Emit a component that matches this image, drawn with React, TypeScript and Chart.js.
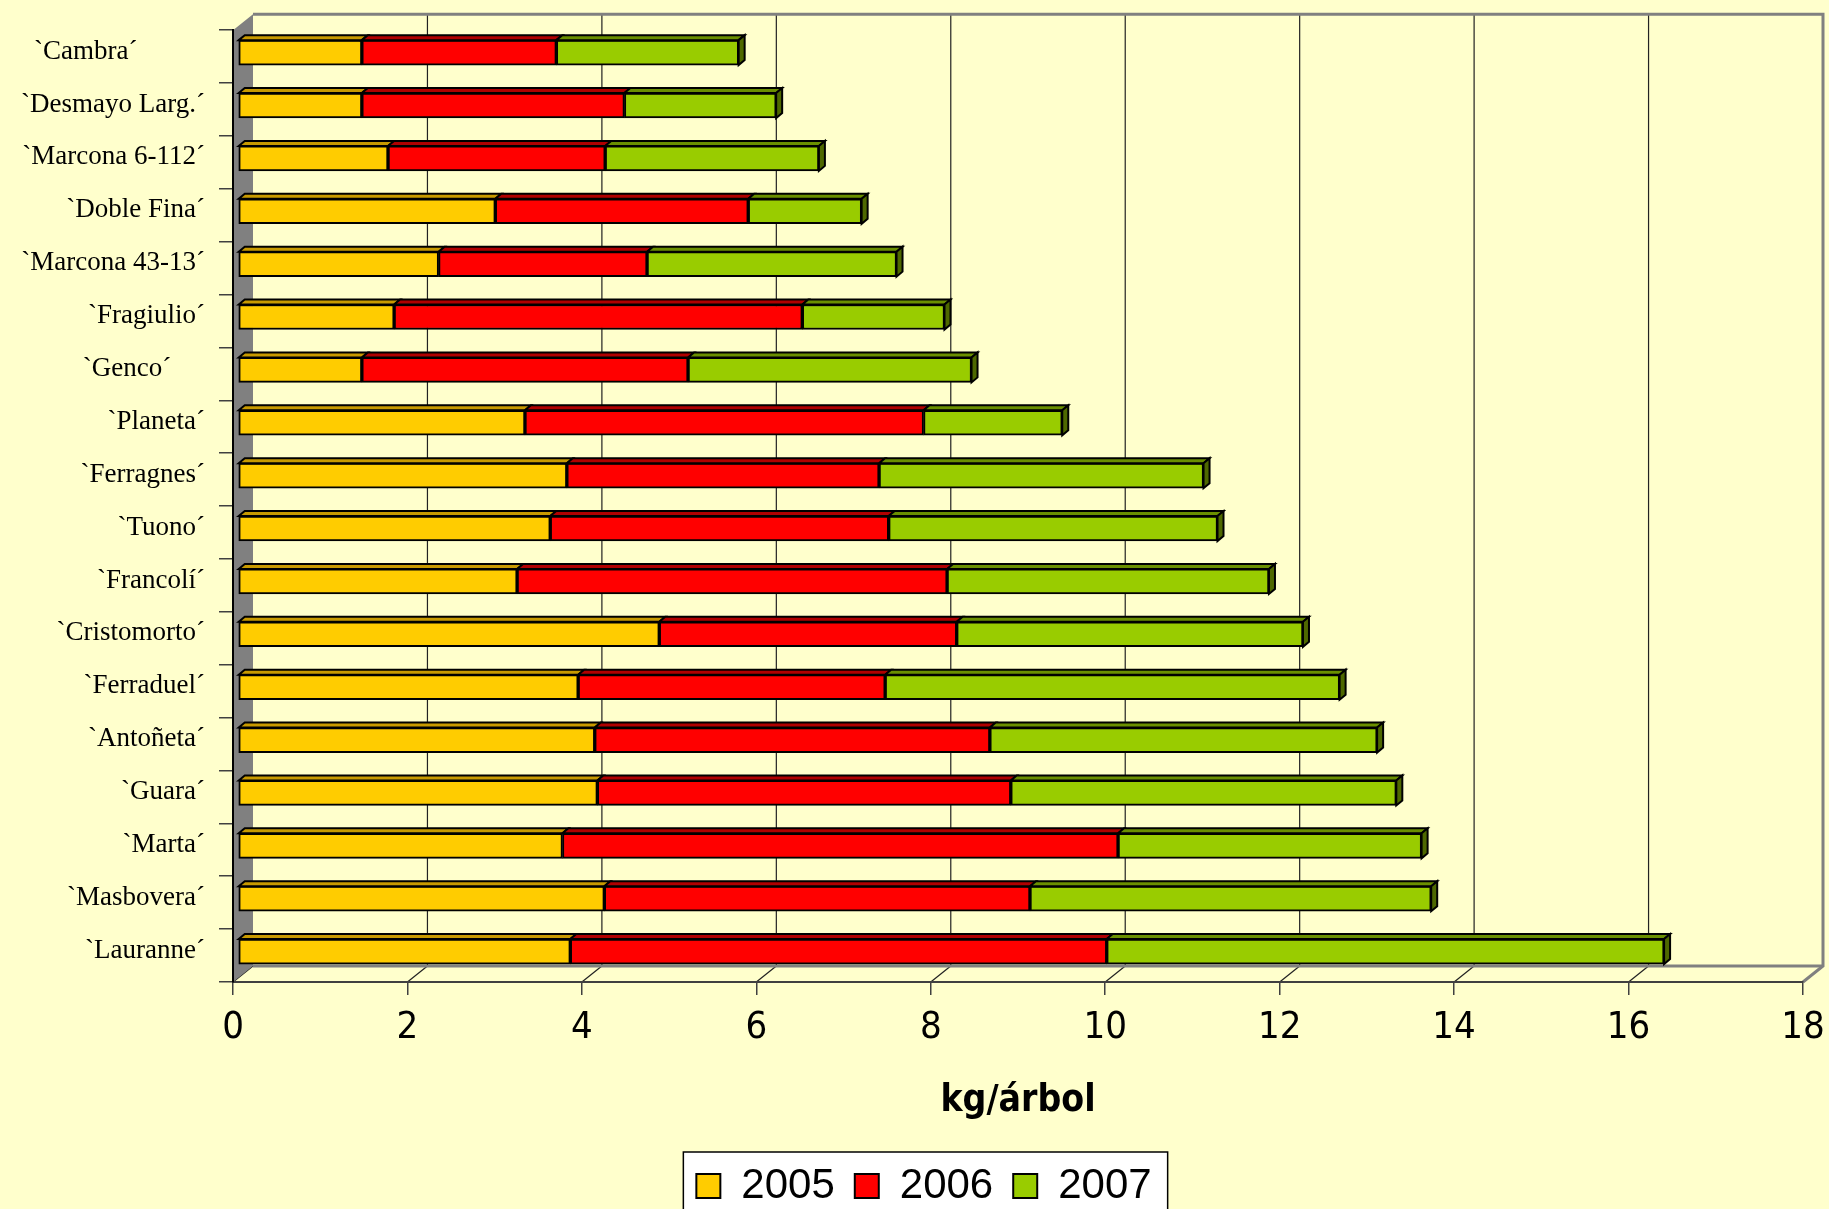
import { useEffect, useRef } from 'react';
import { Chart, registerables } from 'chart.js';

Chart.register(...registerables);

// ---------- data ----------
const categories = [
  '`Cambra´          ',
  '`Desmayo Larg.´',
  '`Marcona 6-112´',
  '`Doble Fina´',
  '`Marcona 43-13´',
  '`Fragiulio´',
  '`Genco´     ',
  '`Planeta´',
  '`Ferragnes´',
  '`Tuono´',
  '`Francolí´',
  '`Cristomorto´',
  '`Ferraduel´',
  '`Antoñeta´',
  '`Guara´',
  '`Marta´',
  '`Masbovera´',
  '`Lauranne´',
];

const values2005 = [1.42, 1.42, 1.72, 2.95, 2.30, 1.79, 1.42, 3.29, 3.77, 3.58, 3.20, 4.83, 3.90, 4.09, 4.12, 3.72, 4.20, 3.81];
const values2006 = [2.23, 3.01, 2.49, 2.90, 2.39, 4.68, 3.74, 4.57, 3.58, 3.88, 4.93, 3.41, 3.52, 4.53, 4.74, 6.37, 4.88, 6.15];
const values2007 = [2.09, 1.74, 2.45, 1.30, 2.86, 1.63, 3.25, 1.59, 3.72, 3.77, 3.69, 3.97, 5.21, 4.44, 4.42, 3.48, 4.60, 6.39];

const seriesNames = ['2005', '2006', '2007'];
const xMin = 0;
const xMax = 18;
const xStep = 2;
const xTitle = 'kg/árbol';

// ---------- styles ----------
const frontColors = ['#FFCC00', '#FF0000', '#99CC00'];
const topColors = ['#C89A00', '#B00000', '#6A8F00'];
const endColor = '#4E6800';
const BG = '#FFFFCC';

const DEPTH_X = 20;
const DEPTH_Y = -16;
const SHIFT_X = 5;
const SHIFT_Y = -4;
const BAR_DX = 6;
const BAR_DY = -5;
const LEGEND_CENTER = 924;

const narrowFont = "'Liberation Sans Narrow', 'Arial Narrow', 'DejaVu Sans Condensed', sans-serif";

const pseudo3d = {
  id: 'pseudo3d',
  afterLayout(chart: any) {
    const lg = chart.legend;
    if (lg) {
      const shift = LEGEND_CENTER - (lg.left + lg.right) / 2;
      lg.left += shift;
      lg.right += shift;
    }
  },
  beforeDraw(chart: any) {
    const { ctx, chartArea: a } = chart;
    const xs = chart.scales.x;
    ctx.save();
    ctx.fillStyle = BG;
    ctx.fillRect(0, 0, chart.width, chart.height);

    // legend frame
    const lg = chart.legend;
    if (lg && lg.legendHitBoxes && lg.legendHitBoxes.length) {
      const hb = lg.legendHitBoxes;
      const last = hb[hb.length - 1];
      const l = hb[0].left - 13;
      const r = last.left + last.width + 16;
      const t = hb[0].top + hb[0].height / 2 - 34;
      ctx.fillStyle = '#FFFFFF';
      ctx.fillRect(l, t, r - l, chart.height - t + 20);
      ctx.strokeStyle = '#000000';
      ctx.lineWidth = 1.5;
      ctx.strokeRect(l, t, r - l, chart.height - t + 20);
    }

    // grid lines on the back wall and floor
    ctx.strokeStyle = '#222222';
    ctx.lineWidth = 1.2;
    for (const t of xs.ticks) {
      const px = xs.getPixelForValue(t.value);
      if (t.value > xMin && t.value < xMax) {
        ctx.beginPath();
        ctx.moveTo(px + DEPTH_X, a.top + DEPTH_Y);
        ctx.lineTo(px + DEPTH_X, a.bottom + DEPTH_Y);
        ctx.stroke();
      }
      if (t.value < xMax) {
        ctx.beginPath();
        ctx.moveTo(px + DEPTH_X, a.bottom + DEPTH_Y);
        ctx.lineTo(px, a.bottom);
        ctx.stroke();
      }
    }

    // back wall outline
    ctx.strokeStyle = '#808080';
    ctx.lineWidth = 3;
    ctx.beginPath();
    ctx.moveTo(a.left + DEPTH_X, a.top + DEPTH_Y);
    ctx.lineTo(a.right + DEPTH_X, a.top + DEPTH_Y);
    ctx.lineTo(a.right + DEPTH_X, a.bottom + DEPTH_Y);
    ctx.lineTo(a.right, a.bottom);
    ctx.stroke();
    ctx.beginPath();
    ctx.moveTo(a.left + DEPTH_X, a.bottom + DEPTH_Y);
    ctx.lineTo(a.right + DEPTH_X, a.bottom + DEPTH_Y);
    ctx.stroke();

    // left side wall
    ctx.fillStyle = '#808080';
    ctx.beginPath();
    ctx.moveTo(a.left, a.top);
    ctx.lineTo(a.left + DEPTH_X, a.top + DEPTH_Y);
    ctx.lineTo(a.left + DEPTH_X, a.bottom + DEPTH_Y);
    ctx.lineTo(a.left, a.bottom);
    ctx.closePath();
    ctx.fill();
    ctx.restore();
  },
  beforeDatasetsDraw(chart: any) {
    chart.ctx.save();
    chart.ctx.translate(SHIFT_X, SHIFT_Y);
  },
  afterDatasetsDraw(chart: any) {
    const { ctx } = chart;
    const n = chart.data.datasets.length;
    ctx.lineJoin = 'miter';
    for (let d = 0; d < n; d++) {
      const meta = chart.getDatasetMeta(d);
      meta.data.forEach((el: any) => {
        const { x, y, base, height } = el.getProps(['x', 'y', 'base', 'height'], true);
        const top = y - height / 2;
        const bottom = y + height / 2;
        ctx.beginPath();
        ctx.moveTo(base, top);
        ctx.lineTo(base + BAR_DX, top + BAR_DY);
        ctx.lineTo(x + BAR_DX, top + BAR_DY);
        ctx.lineTo(x, top);
        ctx.closePath();
        ctx.fillStyle = topColors[d];
        ctx.fill();
        ctx.strokeStyle = '#000';
        ctx.lineWidth = 2;
        ctx.stroke();
        if (d === n - 1) {
          ctx.beginPath();
          ctx.moveTo(x, top);
          ctx.lineTo(x + BAR_DX, top + BAR_DY);
          ctx.lineTo(x + BAR_DX, bottom + BAR_DY);
          ctx.lineTo(x, bottom);
          ctx.closePath();
          ctx.fillStyle = endColor;
          ctx.fill();
          ctx.stroke();
        }
      });
    }
    ctx.restore();
  },
};

export default function App() {
  const ref = useRef<HTMLCanvasElement | null>(null);

  useEffect(() => {
    if (!ref.current) return;
    const seriesValues = [values2005, values2006, values2007];
    const chart = new Chart(ref.current, {
      type: 'bar',
      data: {
        labels: categories,
        datasets: seriesNames.map((name, i) => ({
          label: name,
          data: seriesValues[i],
          backgroundColor: frontColors[i],
          borderColor: '#000000',
          borderWidth: 2,
          borderSkipped: false,
          barThickness: 25,
        })),
      },
      options: {
        indexAxis: 'y',
        responsive: false,
        maintainAspectRatio: false,
        animation: false,
        layout: { padding: { left: 0, right: 26, top: 27, bottom: 0 } },
        scales: {
          x: {
            stacked: true,
            min: xMin,
            max: xMax,
            ticks: {
              stepSize: xStep,
              color: '#000',
              padding: 10,
              maxRotation: 0,
              font: { family: narrowFont, size: 38 },
            },
            grid: {
              display: true,
              drawOnChartArea: false,
              drawTicks: true,
              tickLength: 13,
              color: '#404040',
              lineWidth: 1.5,
            },
            border: { display: true, color: '#404040', width: 2 },
            title: {
              display: true,
              text: xTitle,
              color: '#000',
              font: { family: narrowFont, size: 37, weight: 'bold' },
              padding: { top: 0, bottom: 21 },
            },
            afterFit: (s: any) => {
              s.height = 163;
              s.paddingLeft = 0;
              s.paddingRight = 0;
            },
          },
          y: {
            stacked: true,
            ticks: {
              autoSkip: false,
              color: '#000',
              padding: 14,
              labelOffset: -5,
              font: { family: "'Liberation Serif', 'Times New Roman', serif", size: 27 },
            },
            grid: {
              display: true,
              drawOnChartArea: false,
              drawTicks: true,
              tickLength: 14,
              color: '#404040',
              lineWidth: 1.5,
            },
            border: { display: true, color: '#000000', width: 2 },
            afterFit: (s: any) => {
              s.width = 233;
            },
          },
        },
        plugins: {
          legend: {
            display: true,
            position: 'bottom',
            labels: {
              color: '#000',
              boxWidth: 24,
              boxHeight: 24,
              padding: 20,
              font: { family: "'Liberation Sans', Arial, sans-serif", size: 42 },
            },
          },
          tooltip: { enabled: false },
        },
      },
      plugins: [pseudo3d],
    } as any);
    return () => chart.destroy();
  }, []);

  return (
    <div
      style={{
        position: 'fixed',
        left: 0,
        top: 0,
        width: 1829,
        height: 1209,
        overflow: 'hidden',
        background: BG,
      }}
    >
      <canvas ref={ref} width={1829} height={1217} style={{ display: 'block' }} />
    </div>
  );
}
